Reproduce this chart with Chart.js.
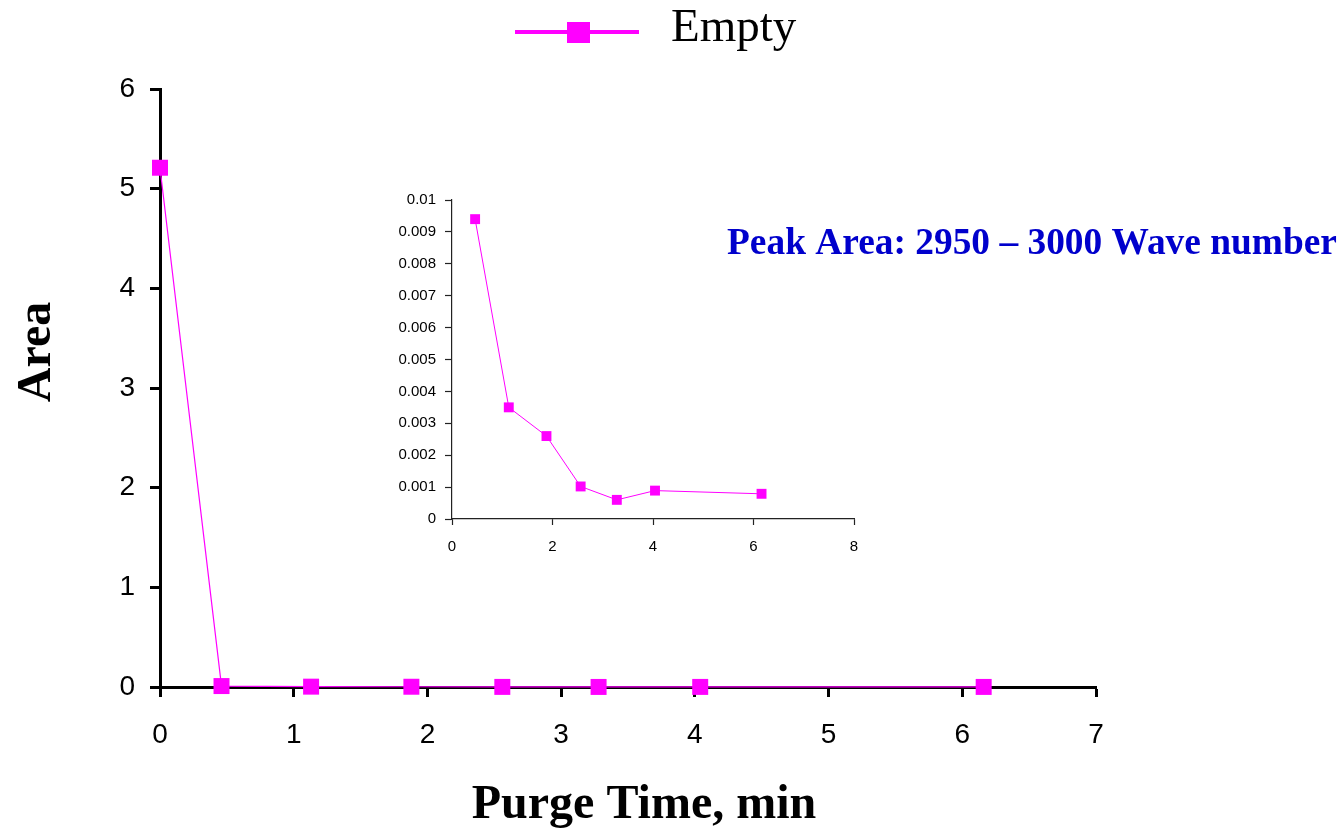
<!DOCTYPE html>
<html><head><meta charset="utf-8">
<script src="https://cdn.jsdelivr.net/npm/chart.js@4.4.0/dist/chart.umd.min.js"></script>
<style>
html,body{margin:0;padding:0;background:#fff;overflow:hidden}
#wrap{position:relative;width:1344px;height:830px;background:#fff}
#main{position:absolute;left:0;top:0}
#inset{position:absolute;left:380px;top:180px}
</style></head><body>
<div id="wrap"><canvas id="main" width="1344" height="830"></canvas><canvas id="inset" width="500" height="390"></canvas></div>
<script>
// ---- data ----
const seriesLabel = 'Empty';
const purgeTime = [0, 0.46, 1.13, 1.88, 2.56, 3.28, 4.04, 6.16];
const area = [5.21, 0.0094, 0.0035, 0.0026, 0.00102, 0.0006, 0.00089, 0.00079];
const xTitle = 'Purge Time, min';
const yTitle = 'Area';
const noteText = 'Peak Area: 2950 \u2013 3000 Wave number';
const mainXTicks = [0, 1, 2, 3, 4, 5, 6, 7];
const mainYTicks = [0, 1, 2, 3, 4, 5, 6];
const insetXTicks = [0, 2, 4, 6, 8];
const insetYTickLabels = ['0', '0.001', '0.002', '0.003', '0.004', '0.005', '0.006', '0.007', '0.008', '0.009', '0.01'];

const MAGENTA = '#FF00FF';
Chart.defaults.font.family = "'Liberation Sans', Arial, sans-serif";
Chart.defaults.color = '#000';

const mainPoints = purgeTime.map((x, i) => ({x, y: area[i]}));
const insetPoints = mainPoints.slice(1);

const decorPlugin = {
  id: 'decor',
  afterDraw(chart) {
    const ctx = chart.ctx;
    ctx.save();
    // legend
    ctx.strokeStyle = MAGENTA; ctx.lineWidth = 4;
    ctx.beginPath(); ctx.moveTo(515, 32); ctx.lineTo(639, 32); ctx.stroke();
    ctx.fillStyle = MAGENTA; ctx.fillRect(567, 22, 23, 21);
    ctx.fillStyle = '#000';
    ctx.font = "47px 'Liberation Serif', 'Times New Roman', serif";
    ctx.textAlign = 'left'; ctx.textBaseline = 'alphabetic';
    ctx.fillText(chart.data.datasets[0].label, 671, 41);
    // axis titles
    ctx.font = "bold 48px 'Liberation Serif', 'Times New Roman', serif";
    ctx.textAlign = 'center';
    ctx.fillText(xTitle, 644, 818);
    ctx.save();
    ctx.translate(50, 352); ctx.rotate(-Math.PI / 2);
    ctx.fillText(yTitle, 0, 0);
    ctx.restore();
    // note
    ctx.fillStyle = '#0000CC';
    ctx.font = "bold 37.4px 'Liberation Serif', 'Times New Roman', serif";
    ctx.textAlign = 'left';
    ctx.fillText(noteText, 727, 254);
    ctx.restore();
  }
};

new Chart(document.getElementById('main'), {
  type: 'scatter',
  data: { datasets: [{
    label: seriesLabel, data: mainPoints, showLine: true,
    borderColor: MAGENTA, borderWidth: 1.2,
    pointStyle: 'rect', pointRadius: 11.3, pointHoverRadius: 11.3,
    pointBackgroundColor: MAGENTA, pointBorderWidth: 0, clip: false
  }]},
  options: {
    responsive: false, animation: false, devicePixelRatio: 1,
    layout: { padding: { left: 0, top: 89, right: 248, bottom: 0 } },
    plugins: { legend: { display: false }, tooltip: { enabled: false } },
    scales: {
      x: {
        type: 'linear', min: mainXTicks[0], max: mainXTicks[mainXTicks.length - 1],
        afterBuildTicks: s => { s.ticks = mainXTicks.map(v => ({value: v})); },
        afterFit: s => { s.height = 143; },
        ticks: { font: { size: 28 }, padding: 21, color: '#000', maxRotation: 0 },
        grid: { drawOnChartArea: false, drawTicks: true, tickLength: 10, tickWidth: 3, tickColor: '#000', color: '#000' },
        border: { display: true, color: '#000', width: 3 }
      },
      y: {
        type: 'linear', min: mainYTicks[0], max: mainYTicks[mainYTicks.length - 1],
        afterBuildTicks: s => { s.ticks = mainYTicks.map(v => ({value: v})); },
        afterFit: s => { s.width = 160; },
        ticks: { font: { size: 28 }, padding: 15, color: '#000' },
        grid: { drawOnChartArea: false, drawTicks: true, tickLength: 10, tickWidth: 3, tickColor: '#000', color: '#000' },
        border: { display: true, color: '#000', width: 3 }
      }
    }
  },
  plugins: [decorPlugin]
});

new Chart(document.getElementById('inset'), {
  type: 'scatter',
  data: { datasets: [{
    label: seriesLabel, data: insetPoints, showLine: true,
    borderColor: MAGENTA, borderWidth: 1,
    pointStyle: 'rect', pointRadius: 7, pointHoverRadius: 7,
    pointBackgroundColor: MAGENTA, pointBorderWidth: 0, clip: false
  }]},
  options: {
    responsive: false, animation: false, devicePixelRatio: 1,
    layout: { padding: { left: 0, top: 20, right: 26, bottom: 0 } },
    plugins: { legend: { display: false }, tooltip: { enabled: false } },
    scales: {
      x: {
        type: 'linear', min: insetXTicks[0], max: insetXTicks[insetXTicks.length - 1],
        afterBuildTicks: s => { s.ticks = insetXTicks.map(v => ({value: v})); },
        afterFit: s => { s.height = 51; },
        ticks: { font: { size: 15 }, padding: 13, color: '#000', maxRotation: 0 },
        grid: { drawOnChartArea: false, drawTicks: true, tickLength: 6, tickWidth: 1.2, tickColor: '#222', color: '#222' },
        border: { display: true, color: '#222', width: 1.2 }
      },
      y: {
        type: 'linear', min: 0, max: 0.01,
        afterBuildTicks: s => { s.ticks = insetYTickLabels.map(t => ({value: parseFloat(t)})); },
        afterFit: s => { s.width = 72; },
        ticks: { font: { size: 15 }, padding: 9, color: '#000',
          callback: (v, i) => insetYTickLabels[i] },
        grid: { drawOnChartArea: false, drawTicks: true, tickLength: 7, tickWidth: 1.2, tickColor: '#222', color: '#222' },
        border: { display: true, color: '#222', width: 1.2 }
      }
    }
  }
});
</script>
</body></html>
